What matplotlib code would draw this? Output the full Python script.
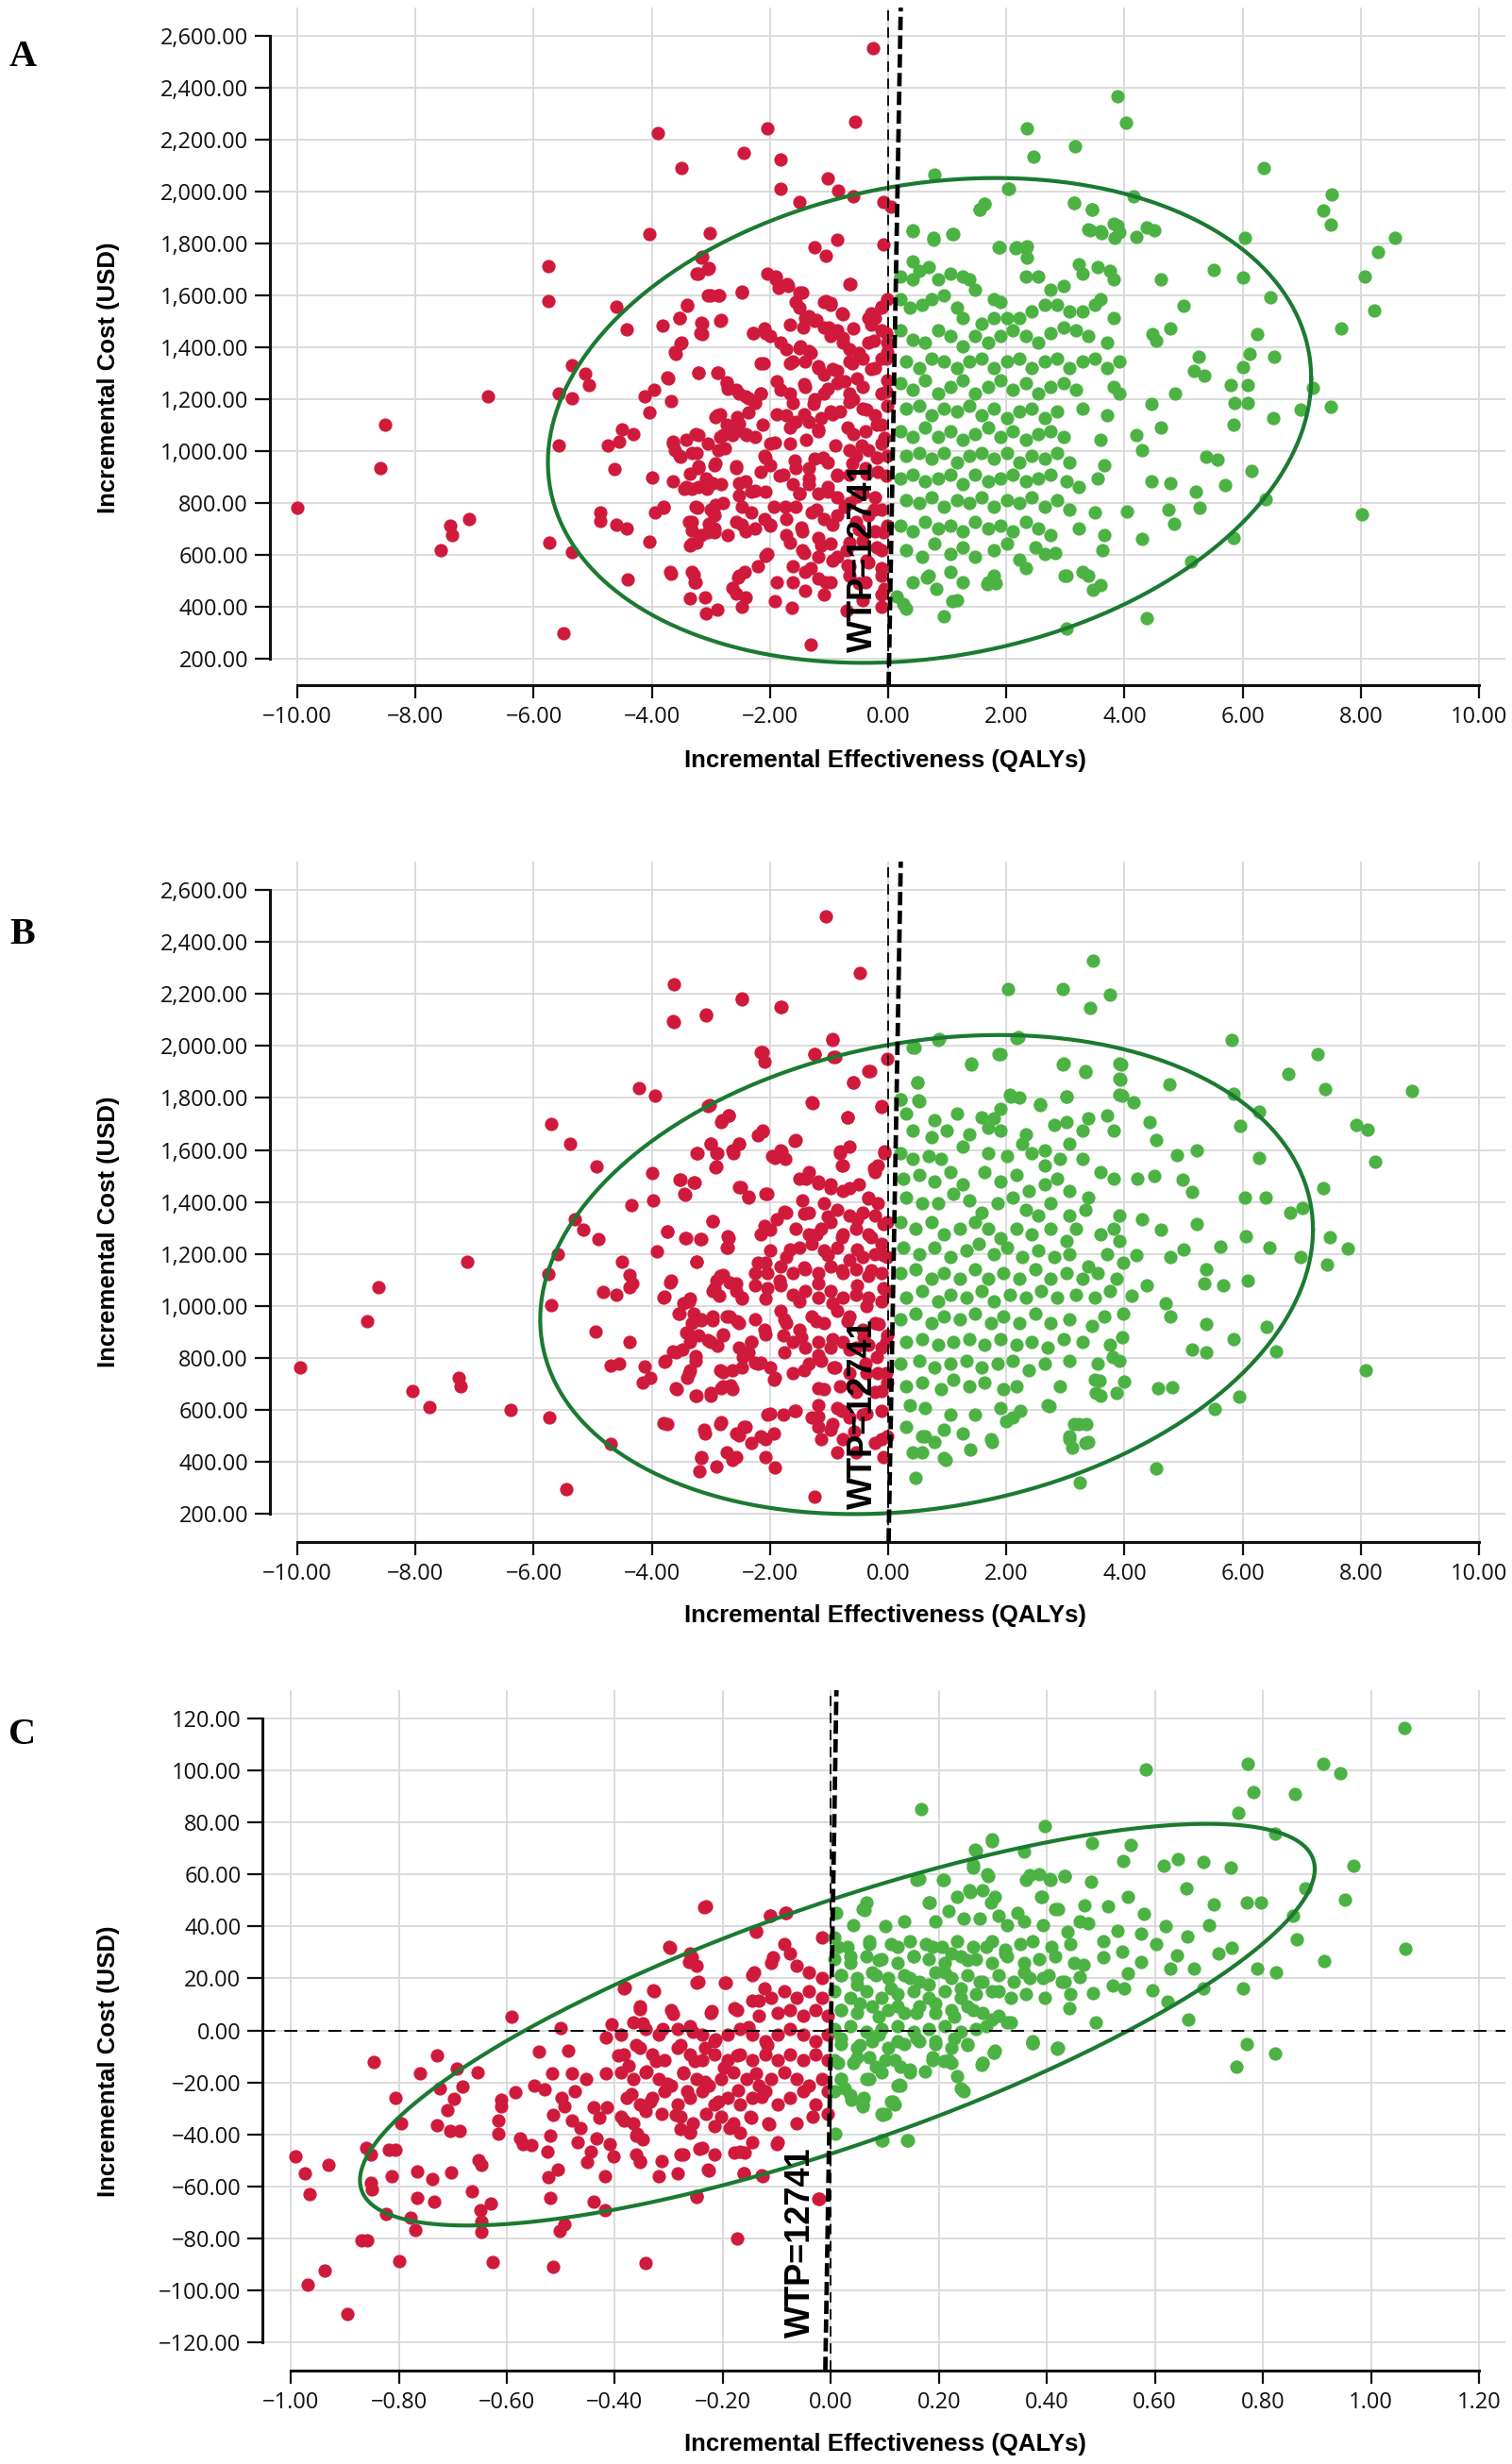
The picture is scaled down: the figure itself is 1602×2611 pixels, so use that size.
import numpy as np
import matplotlib.pyplot as plt

plt.rcParams['font.family'] = ['Open Sans', 'DejaVu Sans']

W, H = 1602, 2611
RED = '#d01a3c'
GREEN = '#4cb243'
RING = '#1b7a31'
GRID = '#dadada'
WTP = 12741          # willingness to pay, USD per QALY

# ---------------- data (QALYs, USD) ----------------
a_pts = [
    (-10.0, 780), (-8.6, 935), (-8.51, 1100), (-6.77, 1210), (-7.09, 737), (-7.41, 713), (-7.38, 675), (-7.57, 618),
    (-5.75, 1713), (-5.75, 1579), (-5.57, 1022), (-5.57, 1220), (-5.36, 1202), (-5.35, 1332), (-5.13, 1298),
    (-5.07, 1255), (-5.74, 648), (-5.35, 612), (-5.49, 299), (-3.90, 2227), (-3.50, 2091), (-2.44, 2150),
    (-4.05, 1837), (-3.02, 1841), (-3.15, 1748), (-3.04, 1705), (-3.24, 1683), (-4.60, 1555), (-4.42, 1468),
    (-3.82, 1482), (-3.53, 1511), (-3.40, 1561), (-3.06, 1600), (-2.88, 1600), (-3.15, 1492), (-3.15, 1452),
    (-2.83, 1504), (-2.48, 1610), (-3.51, 1413), (-3.59, 1375), (-3.21, 1300), (-2.88, 1300), (-3.72, 1279),
    (-3.97, 1235), (-4.12, 1210), (-3.68, 1194), (-4.05, 1150), (-4.74, 1020), (-4.51, 1082), (-4.56, 1038),
    (-4.32, 1066), (-4.64, 930), (-4.00, 898), (-4.87, 762), (-4.87, 730), (-4.60, 717), (-4.43, 701),
    (-4.04, 652), (-4.41, 506), (-3.94, 762), (-3.80, 782), (-3.68, 527), (-3.29, 524), (-3.27, 496),
    (-3.35, 431), (-3.08, 376), (-2.89, 389), (-3.64, 1038), (-3.61, 1002), (-3.52, 977), (-3.24, 993),
    (-3.22, 943), (-3.35, 914), (-3.45, 855), (-3.32, 855), (-3.21, 1060), (-3.23, 780), (-3.33, 727),
    (-3.32, 693), (-3.36, 638), (-3.25, 648), (-3.06, 687), (-3.03, 721), (-2.96, 762), (-2.92, 793),
    (-2.93, 953), (-3.09, 894), (-2.97, 875), (-3.07, 855), (-2.83, 873), (-2.94, 687), (-2.72, 677),
    (-2.57, 940), (-2.52, 876), (-2.52, 829), (-2.48, 717), (-2.54, 514), (-2.58, 451), (-2.48, 401),
    (-2.43, 533), (-2.93, 1131), (-2.85, 1141), (-2.80, 1062), (-2.76, 1012), (-2.88, 1002), (-2.56, 1131),
    (-2.74, 1265), (-2.71, 1239), (-2.53, 1220), (-2.37, 1204), (-2.64, 1062), (-2.40, 1062), (-2.29, 1456),
    (-2.36, 1150), (-2.52, 1105), (-2.42, 691), (-2.32, 845),
    (-0.26, 2551), (-2.04, 2245), (-0.56, 2269), (-1.82, 2123), (-1.02, 2052), (-1.82, 2012), (-0.84, 2004),
    (-1.51, 1959), (-0.59, 1983), (-0.08, 1959), (0.05, 1940), (-0.87, 1815), (-1.24, 1786), (-1.05, 1752),
    (-0.08, 1795), (-1.90, 1673), (-1.71, 1644), (-0.64, 1644), (-1.45, 1610), (-1.06, 1578), (-0.98, 1565),
    (-0.12, 1555), (-0.29, 1531), (-1.35, 1519), (-1.22, 1506), (-0.78, 1531), (-1.67, 1486), (-1.44, 1476),
    (-1.00, 1476), (-0.29, 1486), (-2.08, 1456), (-0.76, 1437), (-0.04, 1456), (-0.24, 1427), (-1.51, 1397),
    (-1.31, 1377), (-0.49, 1377), (-2.11, 1338), (-1.67, 1338), (-1.18, 1328), (-0.94, 1318), (-0.61, 1338),
    (-0.29, 1318), (-0.04, 1358), (-1.88, 1269), (-1.43, 1259), (-0.73, 1269), (-0.53, 1279), (-1.02, 1239),
    (-0.04, 1229), (-2.16, 1220), (-1.67, 1220), (-1.27, 1180), (-0.65, 1190), (-1.88, 1141), (-1.43, 1141),
    (-0.94, 1141), (-0.37, 1160), (-2.12, 1101), (-1.67, 1091), (-1.18, 1082), (-0.69, 1091), (-0.20, 1101),
    (-1.92, 1032), (-1.39, 1042), (-0.90, 1022), (-0.45, 1022), (-0.06, 1052), (-2.08, 973), (-1.59, 963),
    (-1.10, 973), (-0.61, 953), (-0.20, 973), (-1.84, 904), (-1.35, 894), (-0.86, 904), (-0.37, 914),
    (-0.04, 904), (-2.08, 845), (-1.51, 835), (-1.02, 845), (-0.53, 825), (-1.75, 786), (-1.22, 776),
    (-0.73, 786), (-0.24, 776), (-2.00, 717), (-1.47, 707), (-0.94, 717), (-0.49, 697), (-0.08, 687),
    (-1.67, 648), (-1.14, 638), (-0.65, 648), (-0.20, 628), (-2.08, 598), (-1.43, 608), (-0.94, 579),
    (-0.37, 579), (-1.31, 549), (-0.69, 559), (-0.12, 549), (-1.88, 494), (-1.06, 494), (-0.49, 490),
    (-0.06, 470), (-1.92, 421), (-1.63, 395), (-0.71, 387), (-0.12, 401), (-1.31, 253),
    (3.88, 2367), (4.02, 2265), (2.35, 2245), (2.46, 2133), (3.16, 2176), (6.36, 2091), (0.78, 2064),
    (2.04, 2012), (4.16, 1983), (7.51, 1989), (7.37, 1926), (7.49, 1874), (8.58, 1821), (8.29, 1768),
    (8.07, 1673), (8.22, 1543), (7.66, 1474), (6.03, 1821), (6.00, 1669), (6.47, 1594), (6.24, 1452),
    (6.11, 1374), (6.53, 1362), (6.00, 1322), (5.80, 1255), (6.08, 1255), (5.86, 1184), (6.08, 1184),
    (7.18, 1243), (6.98, 1160), (7.49, 1170), (5.84, 1101), (6.51, 1127), (8.02, 756), (6.15, 924),
    (5.71, 869), (6.39, 815), (5.84, 667), (5.12, 573), (4.37, 358), (3.02, 316), (0.94, 362), (0.31, 391),
    (1.09, 421), (1.67, 486), (1.82, 490), (2.98, 520), (3.39, 520), (3.59, 484), (3.47, 466), (0.82, 470),
    (0.65, 514), (0.14, 441), (4.78, 875), (4.74, 776), (4.84, 721), (4.29, 662), (5.21, 845), (5.27, 780),
    (5.39, 977), (5.58, 967), (5.25, 1364), (5.35, 1289), (5.18, 1308), (5.00, 1561), (5.51, 1697),
    (4.78, 1472), (4.47, 1452), (4.51, 1851), (4.37, 1861), (4.20, 1827), (3.88, 1870), (3.84, 1821),
    (3.61, 1841), (3.41, 1851), (3.45, 1930), (3.14, 1955), (1.55, 1930), (1.63, 1953), (0.41, 1851),
    (0.76, 1815), (1.09, 1835), (1.88, 1786), (2.15, 1782), (2.35, 1788), (4.61, 1663), (4.53, 1427),
    (4.86, 1220), (4.45, 1180), (4.61, 1091), (4.20, 1062), (4.29, 1002), (4.45, 884), (4.04, 766),
    (3.63, 618), (2.82, 608), (2.33, 549),
]

a_core = [
    (-3.16, 1745), (-3.05, 1702), (-3.21, 1684), (-2.04, 1684), (-1.91, 1660), (-1.85, 1629), (-1.69, 1635),
    (-1.51, 1611), (-1.56, 1575), (-1.08, 1575), (-0.97, 1569), (-0.65, 1642), (-0.76, 1526), (-0.12, 1551),
    (-0.02, 1587), (-3.00, 1599), (-2.86, 1599), (-2.47, 1614), (-3.40, 1563), (-3.53, 1514), (-3.16, 1496),
    (-2.84, 1502), (-3.18, 1454), (-2.28, 1454), (-2.09, 1472), (-1.99, 1442), (-1.83, 1417), (-1.72, 1393),
    (-1.48, 1405), (-1.35, 1387), (-1.51, 1551), (-1.40, 1514), (-1.24, 1502), (-1.08, 1478), (-0.97, 1442),
    (-0.87, 1466), (-0.60, 1472), (-0.76, 1417), (-0.65, 1393), (-0.34, 1417), (-0.23, 1514), (-0.12, 1466),
    (-0.02, 1417), (-0.34, 1514), (-3.50, 1417), (-3.61, 1381), (-3.74, 1284), (-3.21, 1302), (-2.89, 1302),
    (-2.15, 1339), (-2.73, 1260), (-2.57, 1236), (-2.41, 1211), (-2.25, 1187), (-2.15, 1223), (-1.83, 1236),
    (-1.61, 1345), (-1.40, 1345), (-1.19, 1320), (-1.08, 1296), (-0.87, 1308), (-0.65, 1345), (-0.44, 1357),
    (-0.23, 1320), (-0.12, 1357), (-0.02, 1381), (-0.02, 1272), (-0.12, 1223), (-0.44, 1248), (-0.65, 1223),
    (-0.87, 1260), (-1.08, 1223), (-1.24, 1199), (-1.40, 1248), (-1.61, 1187), (-1.72, 1139), (-1.56, 1114),
    (-1.35, 1114), (-1.13, 1127), (-1.19, 1078), (-0.97, 1151), (-0.82, 1151), (-0.60, 1199), (-0.44, 1163),
    (-0.23, 1139), (-0.02, 1175), (-0.12, 1102), (-0.39, 1078), (-0.60, 1066), (-0.65, 1005), (-0.55, 981),
    (-0.34, 1005), (-0.12, 1030), (-0.02, 981), (-0.18, 920), (-0.39, 933), (-0.65, 908), (-0.87, 908),
    (-1.03, 957), (-1.24, 969), (-1.35, 933), (-1.56, 933), (-1.67, 1030), (-1.99, 1030), (-2.09, 981),
    (-2.25, 1054), (-2.41, 1066), (-2.57, 1078), (-2.73, 1102), (-2.89, 1139), (-2.84, 1054), (-3.05, 1030),
    (-3.26, 1066), (-3.42, 1042), (-3.64, 1030), (-3.53, 981), (-3.32, 993), (-3.21, 933), (-2.94, 945),
    (-3.05, 884), (-3.21, 860), (-3.42, 860), (-3.64, 884), (-3.80, 787), (-3.26, 787), (-3.00, 775),
    (-2.79, 799), (-2.57, 933), (-2.41, 884), (-2.25, 848), (-2.15, 920), (-1.99, 945), (-1.77, 908),
    (-1.61, 872), (-1.51, 836), (-1.35, 872), (-1.19, 836), (-1.03, 860), (-0.87, 823), (-0.65, 799),
    (-0.44, 836), (-0.23, 823), (-0.12, 775), (-0.34, 751), (-0.55, 726), (-0.87, 751), (-1.08, 739),
    (-1.29, 763), (-1.56, 787), (-1.72, 739), (-1.93, 787), (-2.09, 739), (-2.31, 763), (-2.47, 787),
    (-2.57, 726), (-2.25, 702), (-1.99, 714), (-1.72, 678), (-1.45, 690), (-1.19, 666), (-0.97, 642),
    (-0.71, 617), (-0.44, 654), (-0.23, 690), (-0.02, 714), (-0.12, 617), (-0.34, 569), (-0.65, 557),
    (-0.87, 593), (-1.19, 593), (-1.45, 617), (-1.61, 557), (-1.40, 533), (-1.19, 508), (-0.97, 496),
    (-0.65, 520), (-0.39, 496), (-0.12, 520), (-0.12, 448), (-0.44, 424), (-1.08, 448), (-1.40, 460),
    (-1.61, 496), (-2.04, 605), (-2.20, 557), (-2.52, 520), (-2.63, 472), (-2.41, 436), (-3.10, 436),
    (-3.32, 533), (-3.26, 496), (-3.69, 533), (-2.94, 702), (-3.32, 642), (-3.37, 726), (-3.16, 678),
    (-2.94, 751),
    (0.41, 1848), (0.76, 1823), (1.10, 1835), (1.87, 1787), (2.17, 1787), (2.33, 1781), (2.35, 1745),
    (1.55, 1932), (1.63, 1951), (2.03, 2011), (3.15, 1957), (3.45, 1932), (3.39, 1854), (3.60, 1848),
    (3.82, 1878), (3.92, 1842), (0.41, 1732), (0.52, 1696), (0.68, 1708), (0.41, 1660), (0.20, 1672),
    (0.84, 1660), (1.05, 1684), (1.26, 1672), (1.37, 1660), (1.47, 1623), (1.79, 1587), (1.90, 1575),
    (2.33, 1672), (2.54, 1672), (2.75, 1623), (2.97, 1635), (3.23, 1720), (3.55, 1708), (3.76, 1696),
    (3.82, 1660), (3.29, 1684), (0.20, 1587), (0.36, 1551), (0.57, 1563), (0.73, 1587), (0.94, 1599),
    (1.16, 1551), (1.26, 1514), (1.58, 1490), (1.79, 1514), (2.01, 1514), (2.22, 1514), (2.43, 1539),
    (2.65, 1563), (2.86, 1563), (3.07, 1539), (3.29, 1539), (3.50, 1563), (3.60, 1587), (3.82, 1514),
    (0.20, 1466), (0.41, 1429), (0.62, 1417), (0.84, 1466), (1.05, 1442), (1.26, 1405), (1.47, 1442),
    (1.69, 1417), (1.90, 1442), (2.11, 1466), (2.33, 1442), (2.54, 1417), (2.75, 1454), (2.97, 1478),
    (3.18, 1466), (3.39, 1442), (3.71, 1417), (0.30, 1345), (0.52, 1320), (0.73, 1357), (0.94, 1345),
    (1.16, 1320), (1.37, 1345), (1.58, 1357), (1.79, 1320), (2.01, 1345), (2.22, 1357), (2.43, 1320),
    (2.65, 1345), (2.86, 1357), (3.07, 1320), (3.29, 1345), (3.50, 1357), (3.71, 1320), (3.92, 1345),
    (0.20, 1260), (0.41, 1236), (0.62, 1272), (0.84, 1223), (1.05, 1248), (1.26, 1272), (1.47, 1223),
    (1.69, 1248), (1.90, 1272), (2.11, 1236), (2.33, 1260), (2.54, 1223), (2.75, 1248), (2.97, 1260),
    (3.18, 1236), (3.82, 1248), (3.92, 1223), (0.30, 1163), (0.52, 1175), (0.73, 1139), (0.94, 1163),
    (1.16, 1151), (1.37, 1175), (1.58, 1139), (1.79, 1163), (2.01, 1127), (2.22, 1151), (2.43, 1163),
    (2.65, 1127), (2.86, 1151), (3.29, 1163), (3.71, 1139), (0.20, 1078), (0.41, 1054), (0.62, 1090),
    (0.84, 1054), (1.05, 1078), (1.26, 1042), (1.47, 1066), (1.69, 1090), (1.90, 1054), (2.11, 1078),
    (2.33, 1042), (2.54, 1066), (2.75, 1078), (2.97, 1054), (3.60, 1042), (0.30, 981), (0.52, 993),
    (0.73, 969), (0.94, 993), (1.16, 957), (1.37, 981), (1.58, 993), (1.79, 969), (2.01, 993), (2.22, 957),
    (2.43, 981), (2.65, 969), (2.86, 993), (3.07, 957), (3.66, 945), (0.20, 896), (0.41, 908), (0.62, 884),
    (0.84, 896), (1.05, 908), (1.26, 872), (1.47, 908), (1.69, 884), (1.90, 896), (2.11, 908), (2.33, 884),
    (2.54, 896), (2.75, 908), (3.02, 884), (3.23, 860), (3.55, 896), (0.30, 811), (0.52, 799), (0.73, 823),
    (0.94, 787), (1.16, 811), (1.37, 799), (1.58, 823), (1.79, 787), (2.01, 811), (2.22, 799), (2.43, 823),
    (2.65, 787), (2.86, 811), (3.07, 775), (3.50, 763), (0.20, 714), (0.41, 690), (0.62, 726), (0.84, 702),
    (1.05, 714), (1.26, 690), (1.47, 726), (1.69, 702), (1.90, 714), (2.11, 690), (2.33, 726), (2.54, 702),
    (2.75, 678), (3.23, 702), (3.66, 678), (0.30, 617), (0.57, 593), (0.78, 642), (1.05, 605), (1.26, 630),
    (1.47, 593), (1.79, 617), (2.01, 642), (2.22, 581), (2.49, 630), (2.65, 605), (3.02, 520), (3.29, 533),
    (0.41, 496), (0.68, 520), (1.05, 533), (1.26, 496), (1.69, 496), (1.79, 520), (1.16, 424), (0.25, 411),
]

b_pts = [
    (-9.96, 762), (-8.82, 939), (-8.62, 1073), (-8.06, 673), (-7.76, 610), (-7.27, 723), (-7.23, 689),
    (-7.13, 1170), (-6.39, 600), (-5.71, 1700), (-5.39, 1623), (-4.94, 1538), (-5.31, 1333), (-5.16, 1294),
    (-4.90, 1255), (-5.59, 1199), (-5.76, 1121), (-5.71, 1004), (-5.74, 571), (-5.45, 293), (-4.95, 900),
    (-4.69, 467), (-4.83, 1052), (-4.60, 1042), (-4.50, 1170), (-4.38, 1117), (-4.33, 1087), (-4.38, 1071),
    (-4.35, 1387), (-4.38, 861), (-4.69, 768), (-4.56, 778), (-4.22, 1838), (-3.94, 1810), (-3.63, 2239),
    (-3.63, 2092), (-3.08, 2119), (-2.48, 2184), (-4.00, 1511), (-3.98, 1406), (-3.52, 1485), (-3.28, 1475),
    (-3.43, 1428), (-3.02, 1773), (-2.83, 1708), (-2.70, 1731), (-3.23, 1589), (-3.01, 1625), (-2.91, 1589),
    (-2.91, 1536), (-2.62, 1589), (-2.53, 1623), (-2.49, 1455), (-2.36, 1420), (-3.74, 1284), (-3.43, 1260),
    (-3.17, 1255), (-2.97, 1325), (-2.71, 1268), (-2.71, 1225), (-3.92, 1209), (-3.24, 1170), (-3.68, 1095),
    (-3.78, 1034), (-3.47, 1008), (-3.35, 1026), (-3.55, 971), (-3.29, 969), (-3.17, 945), (-2.97, 943),
    (-2.68, 959), (-2.56, 939), (-2.91, 1097), (-2.80, 1117), (-2.58, 1087), (-2.97, 1058), (-2.86, 1038),
    (-2.48, 1028), (-3.38, 894), (-3.36, 861), (-3.48, 831), (-3.60, 821), (-3.06, 867), (-2.89, 847),
    (-2.80, 890), (-3.26, 807), (-3.36, 752), (-3.40, 723), (-3.78, 786), (-4.12, 766), (-4.15, 703),
    (-4.02, 723), (-3.60, 683), (-3.24, 654), (-3.01, 664), (-2.83, 683), (-2.67, 693), (-2.80, 746),
    (-2.64, 752), (-2.48, 762), (-2.46, 801), (-2.37, 821), (-3.81, 549), (-3.11, 522), (-2.83, 551),
    (-2.53, 502), (-2.44, 535), (-3.16, 417), (-3.20, 362), (-2.91, 382), (-2.63, 407), (-2.57, 417),
    (-2.32, 861), (-2.25, 782),
    (-1.05, 2500), (-0.48, 2283), (-1.81, 2151), (-0.94, 2027), (-2.12, 1977), (-1.24, 1968), (-0.90, 1958),
    (-0.31, 1905), (-0.60, 1861), (-1.28, 1780), (-0.12, 1767), (-0.69, 1727), (-2.12, 1672), (-1.58, 1635),
    (-0.82, 1593), (-0.06, 1593), (-1.92, 1570), (-1.80, 1595), (-0.24, 1530), (-0.78, 1540), (-1.39, 1491),
    (-1.18, 1471), (-0.98, 1452), (-2.08, 1432), (-0.65, 1452), (-0.33, 1412), (-1.76, 1363), (-1.43, 1353),
    (-1.02, 1343), (-0.53, 1333), (-0.08, 1314), (-2.00, 1294), (-1.22, 1274), (-0.78, 1264), (-0.29, 1264),
    (-1.67, 1215), (-1.02, 1195), (-0.53, 1215), (-0.08, 1195), (-2.08, 1166), (-1.43, 1146), (-0.78, 1136),
    (-0.29, 1136), (-1.84, 1097), (-1.18, 1087), (-0.53, 1077), (-0.08, 1067), (-2.08, 1028), (-1.51, 1018),
    (-0.94, 1008), (-0.37, 998), (-1.76, 949), (-1.22, 939), (-0.69, 939), (-0.16, 929), (-2.08, 890),
    (-1.47, 880), (-0.94, 870), (-0.41, 880), (-0.04, 861), (-1.76, 821), (-1.18, 811), (-0.65, 831),
    (-0.20, 801), (-2.00, 762), (-1.43, 752), (-0.90, 762), (-0.37, 742), (-0.04, 742), (-2.16, 782),
    (-1.92, 723), (-1.18, 683), (-0.61, 693), (-0.12, 673), (-2.00, 585), (-1.59, 595), (-1.18, 575),
    (-0.78, 595), (-0.37, 585), (-2.08, 486), (-1.14, 486), (-0.94, 545), (-0.57, 516), (-0.12, 486),
    (-1.92, 378), (-2.08, 417), (-1.24, 264), (-0.08, 417),
    (3.47, 2328), (2.03, 2220), (2.96, 2220), (3.76, 2198), (3.41, 2147), (5.82, 2023), (7.27, 1970),
    (6.78, 1891), (7.40, 1836), (8.87, 1826), (5.84, 1816), (7.92, 1696), (8.12, 1678), (8.24, 1556),
    (6.27, 1747), (5.96, 1692), (6.27, 1570), (7.36, 1452), (6.04, 1418), (6.39, 1418), (6.80, 1357),
    (7.02, 1377), (7.47, 1264), (7.78, 1219), (7.43, 1160), (6.98, 1186), (6.06, 1268), (5.63, 1229),
    (6.46, 1225), (6.08, 1097), (5.67, 1077), (6.41, 920), (5.85, 870), (6.57, 825), (8.08, 752),
    (5.94, 648), (5.53, 604), (4.53, 374), (3.24, 319), (0.47, 339), (0.97, 407), (0.42, 437), (0.57, 496),
    (0.78, 476), (1.39, 447), (1.76, 476), (2.00, 555), (2.24, 595), (2.73, 614), (3.14, 545), (3.35, 545),
    (3.06, 486), (3.39, 476), (3.12, 453), (3.51, 664), (3.57, 713), (3.86, 664), (4.00, 707), (4.57, 683),
    (4.80, 687), (5.14, 831), (5.39, 821), (5.39, 929), (4.78, 959), (4.69, 1008), (0.45, 1993),
    (0.86, 2027), (1.41, 1930), (1.90, 1968), (2.20, 2033), (2.96, 1928), (3.33, 1901), (3.94, 1930),
    (3.93, 1869), (3.96, 1810), (4.16, 1782), (4.76, 1851), (3.02, 1806), (2.57, 1771), (2.08, 1806),
    (0.49, 1861), (0.51, 1790), (0.20, 1796), (4.88, 1580), (5.22, 1600), (5.14, 1438), (4.98, 1485),
    (4.51, 1501), (4.22, 1491), (4.43, 1708), (4.53, 1639), (5.22, 1314), (5.00, 1215), (4.78, 1186),
    (5.39, 1142), (5.35, 1087), (4.29, 1333), (4.61, 1294), (4.20, 1195), (4.37, 1077), (4.12, 1038),
    (3.96, 880), (3.80, 801),
]

b_core = [
    (-3.64, 2097), (-3.08, 2121), (-2.47, 2179), (-1.83, 2152), (-2.15, 1976), (-2.09, 1939), (-1.24, 1970),
    (-0.95, 2024), (-0.92, 1958), (-0.34, 1903), (-0.02, 1952), (-0.60, 1861), (-1.29, 1782), (-0.12, 1770),
    (-0.68, 1727), (-3.05, 1770), (-2.81, 1715), (-2.70, 1733), (-2.12, 1673), (-2.20, 1655), (-1.56, 1637),
    (-3.00, 1624), (-2.89, 1588), (-2.63, 1600), (-2.52, 1624), (-3.24, 1588), (-2.92, 1533), (-1.96, 1576),
    (-1.83, 1600), (-1.75, 1564), (-0.65, 1612), (-0.82, 1588), (-0.76, 1540), (-0.07, 1588), (-0.18, 1540),
    (-0.23, 1515), (-3.53, 1485), (-3.29, 1473), (-3.45, 1430), (-2.52, 1455), (-2.36, 1418), (-2.04, 1430),
    (-1.51, 1491), (-1.35, 1515), (-1.19, 1479), (-0.97, 1467), (-0.76, 1443), (-0.50, 1467), (-0.34, 1418),
    (-0.18, 1394), (-1.45, 1406), (-1.35, 1358), (-1.08, 1394), (-0.87, 1370), (-0.65, 1346), (-0.44, 1358),
    (-0.23, 1346), (-0.02, 1321), (-1.72, 1358), (-1.88, 1333), (-2.09, 1309), (-2.15, 1273), (-2.97, 1327),
    (-3.74, 1285), (-3.42, 1261), (-3.18, 1255), (-2.70, 1261), (-2.73, 1224), (-1.56, 1297), (-1.35, 1273),
    (-1.13, 1297), (-0.97, 1321), (-0.76, 1273), (-0.55, 1297), (-0.34, 1273), (-0.12, 1237), (-0.02, 1188),
    (-0.23, 1200), (-0.44, 1188), (-0.65, 1176), (-0.87, 1224), (-1.08, 1212), (-1.29, 1237), (-1.51, 1224),
    (-1.72, 1188), (-1.99, 1212), (-2.20, 1164), (-2.25, 1127), (-2.04, 1127), (-1.83, 1152), (-1.61, 1127),
    (-1.40, 1140), (-1.19, 1127), (-0.97, 1152), (-0.76, 1127), (-0.55, 1140), (-0.34, 1115), (-0.12, 1127),
    (-3.24, 1170), (-3.69, 1091), (-2.84, 1115), (-2.94, 1067), (-2.68, 1091), (-2.47, 1031), (-2.57, 1055),
    (-2.25, 1079), (-2.04, 1067), (-1.83, 1079), (-1.61, 1043), (-1.40, 1055), (-1.19, 1031), (-0.97, 1055),
    (-0.76, 1031), (-0.55, 1043), (-0.34, 1031), (-0.12, 1018), (-0.02, 1055), (-3.80, 1031), (-3.53, 970),
    (-3.37, 1018), (-3.32, 934), (-3.16, 946), (-2.97, 958), (-2.73, 958), (-2.52, 934), (-2.25, 946),
    (-2.09, 909), (-1.83, 982), (-1.72, 934), (-1.51, 909), (-1.29, 958), (-1.08, 934), (-0.87, 982),
    (-0.65, 958), (-0.44, 909), (-0.23, 934), (-0.02, 885), (-0.12, 837), (-0.34, 849), (-0.55, 837),
    (-0.76, 861), (-0.97, 837), (-1.19, 861), (-1.40, 837), (-1.61, 861), (-1.77, 885), (-2.31, 861),
    (-2.52, 837), (-2.79, 885), (-3.00, 861), (-3.21, 885), (-3.42, 897), (-3.64, 824), (-3.77, 788),
    (-3.26, 788), (-3.37, 740), (-2.84, 752), (-2.41, 812), (-2.20, 776), (-1.93, 715), (-1.61, 740),
    (-1.35, 776), (-1.13, 788), (-0.92, 764), (-0.65, 740), (-0.39, 776), (-0.18, 740), (-0.02, 703),
    (-0.23, 667), (-0.55, 667), (-0.82, 691), (-1.08, 679), (-1.19, 618), (-0.87, 606), (-0.65, 570),
    (-0.44, 582), (-0.12, 594), (-0.02, 497), (-0.23, 473), (-0.76, 485), (-0.97, 521), (-1.19, 534),
    (-1.29, 570), (-1.56, 594), (-1.77, 582), (-2.04, 582), (-1.93, 509), (-2.15, 497), (-2.41, 534),
    (-2.57, 509), (-2.31, 473), (-2.84, 546), (-3.10, 509), (-2.73, 437), (-3.16, 412), (-3.74, 546),
    (-3.26, 655), (-3.00, 655), (-3.58, 679), (-2.79, 691), (-2.63, 679), (-0.55, 437), (-0.87, 437),
    (0.41, 1994), (0.84, 2024), (1.40, 1933), (1.87, 1970), (2.17, 2030), (2.97, 1933), (3.34, 1903),
    (3.92, 1933), (3.92, 1873), (3.92, 1812), (0.49, 1861), (0.20, 1794), (0.52, 1788), (2.06, 1812),
    (2.22, 1800), (2.57, 1776), (3.02, 1806), (1.90, 1758), (0.30, 1739), (0.78, 1715), (1.16, 1739),
    (1.58, 1727), (1.79, 1721), (2.33, 1661), (2.81, 1697), (3.02, 1709), (3.39, 1721), (3.71, 1733),
    (0.41, 1673), (0.73, 1649), (0.99, 1673), (1.37, 1661), (1.69, 1685), (1.90, 1673), (2.27, 1624),
    (2.65, 1600), (3.07, 1624), (3.29, 1673), (3.82, 1673), (0.20, 1588), (0.41, 1564), (0.68, 1576),
    (0.89, 1564), (1.26, 1612), (1.69, 1588), (2.01, 1576), (2.43, 1588), (2.65, 1540), (2.91, 1564),
    (3.29, 1564), (3.60, 1515), (3.82, 1491), (0.25, 1491), (0.52, 1503), (0.78, 1479), (1.05, 1515),
    (1.26, 1467), (1.63, 1515), (1.90, 1479), (2.17, 1503), (2.38, 1443), (2.65, 1467), (2.86, 1491),
    (3.07, 1443), (3.39, 1418), (3.92, 1346), (0.30, 1418), (0.57, 1394), (0.84, 1394), (1.10, 1430),
    (1.37, 1406), (1.58, 1358), (1.85, 1394), (2.11, 1418), (2.33, 1370), (2.54, 1346), (2.75, 1394),
    (3.07, 1346), (3.34, 1370), (3.82, 1297), (0.20, 1321), (0.46, 1297), (0.73, 1321), (0.94, 1273),
    (1.21, 1297), (1.47, 1321), (1.69, 1297), (1.90, 1261), (2.17, 1297), (2.43, 1273), (2.75, 1297),
    (3.02, 1249), (3.18, 1297), (3.60, 1273), (3.92, 1249), (0.25, 1224), (0.52, 1200), (0.78, 1224),
    (1.05, 1188), (1.32, 1212), (1.53, 1237), (1.79, 1200), (2.01, 1224), (2.27, 1188), (2.54, 1212),
    (2.81, 1188), (3.07, 1200), (3.39, 1152), (3.71, 1200), (3.98, 1164), (0.20, 1127), (0.46, 1140),
    (0.73, 1103), (0.94, 1127), (1.21, 1103), (1.47, 1140), (1.69, 1103), (1.95, 1127), (2.22, 1103),
    (2.49, 1140), (2.75, 1103), (3.02, 1127), (3.29, 1103), (3.55, 1127), (3.87, 1103), (0.30, 1031),
    (0.57, 1055), (0.84, 1018), (1.05, 1043), (1.32, 1031), (1.58, 1055), (1.79, 1018), (2.06, 1043),
    (2.33, 1031), (2.59, 1055), (2.86, 1031), (3.18, 1043), (3.50, 1031), (3.76, 1055), (0.20, 946),
    (0.46, 970), (0.73, 934), (0.94, 958), (1.21, 946), (1.47, 970), (1.74, 934), (1.95, 958), (2.22, 934),
    (2.49, 970), (2.75, 934), (3.07, 946), (3.45, 921), (3.66, 958), (3.98, 970), (0.30, 861), (0.57, 873),
    (0.84, 849), (1.10, 861), (1.37, 873), (1.63, 849), (1.90, 873), (2.17, 849), (2.43, 861), (2.70, 837),
    (2.97, 873), (3.29, 861), (3.76, 849), (0.20, 776), (0.52, 788), (0.78, 764), (1.05, 776), (1.32, 788),
    (1.58, 764), (1.85, 776), (2.11, 788), (2.38, 752), (2.65, 776), (3.07, 788), (3.55, 776), (3.92, 788),
    (0.30, 691), (0.57, 703), (0.89, 679), (1.10, 715), (1.37, 691), (1.63, 703), (1.95, 679), (2.17, 691),
    (2.91, 691), (3.50, 715), (3.60, 655), (0.36, 618), (0.62, 606), (1.05, 582), (1.47, 582), (1.90, 606),
    (2.11, 570), (2.70, 618), (3.23, 546), (0.30, 534), (0.62, 497), (0.94, 521), (1.26, 509), (1.74, 485),
    (3.07, 497), (3.34, 473), (0.94, 412), (0.57, 437),
]

c_pts = [
    (-0.992, -48.6), (-0.974, -55.2), (-0.966, -63.0), (-0.930, -51.8), (-0.969, -97.9), (-0.937, -92.5),
    (-0.896, -109.2), (-0.861, -45.2), (-0.847, -12.1), (-0.851, -47.6), (-0.851, -58.6), (-0.850, -61.1),
    (-0.870, -80.9), (-0.859, -80.9), (-0.824, -70.5), (-0.818, -46.0), (-0.807, -46.0), (-0.813, -56.0),
    (-0.807, -26.0), (-0.796, -35.6), (-0.800, -88.9), (-0.778, -72.1), (-0.770, -76.9), (-0.766, -54.2),
    (-0.766, -64.5), (-0.761, -16.7), (-0.738, -57.2), (-0.734, -65.9), (-0.730, -9.5), (-0.730, -36.4),
    (-0.724, -22.4), (-0.703, -54.6), (-0.711, -30.6), (-0.698, -26.2), (-0.705, -38.6), (-0.687, -38.6),
    (-0.692, -14.7), (-0.683, -21.6), (-0.655, -16.1), (-0.664, -62.0), (-0.652, -50.0), (-0.648, -51.6),
    (-0.649, -69.1), (-0.647, -73.5), (-0.647, -77.5), (-0.627, -89.1), (-0.629, -66.5), (-0.615, -39.6),
    (-0.615, -34.6), (-0.610, -29.2), (-0.610, -26.6), (-0.591, 5.3), (-0.585, -23.8), (-0.575, -41.6),
    (-0.570, -43.6), (-0.555, -44.2), (-0.540, -8.3), (-0.550, -21.2), (-0.530, -22.6), (-0.517, -16.7),
    (-0.515, -32.6), (-0.520, -40.6), (-0.525, -46.6), (-0.523, -56.6), (-0.519, -64.5), (-0.506, -53.6),
    (-0.515, -91.1), (-0.502, -77.1), (-0.494, -74.5), (-0.501, 1.0), (-0.499, -26.0), (-0.494, -29.2),
    (-0.486, -7.7), (-0.479, -16.7), (-0.474, -23.6), (-0.479, -34.6), (-0.464, -37.6), (-0.469, -43.2),
    (-0.451, -50.6), (-0.444, -46.6), (-0.439, -66.1), (-0.454, -18.7), (-0.439, -29.6), (-0.434, -41.6),
    (-0.429, -33.6), (-0.419, -56.2), (-0.419, -69.1), (-0.414, -29.6), (-0.416, -16.7), (-0.416, -2.7),
    (-0.406, 2.3), (-0.409, -43.6), (-0.402, -48.6), (-0.384, -34.6), (-0.382, 16.7), (-0.394, -9.7),
    (-0.374, -13.7), (-0.369, -24.6), (-0.354, 8.3), (-0.361, -5.7), (-0.344, -89.5), (-0.359, -39.6),
    (-0.354, -50.6), (-0.349, 2.6), (-0.342, -15.7), (-0.334, -27.6), (-0.324, -11.7), (-0.329, 15.3),
    (-0.319, -56.2), (-0.312, 0.4), (-0.303, -20.6), (-0.297, 31.8), (-0.293, 6.4), (-0.288, -32.6),
    (-0.278, -5.7), (-0.273, -16.7), (-0.267, -23.6), (-0.273, -47.6), (-0.263, 26.2), (-0.258, 28.2),
    (-0.261, -39.2), (-0.256, -0.6), (-0.253, -11.7), (-0.246, 18.9), (-0.248, -64.1), (-0.243, -45.6),
    (-0.235, 47.6), (-0.233, -6.7), (-0.233, -19.7), (-0.228, -53.6), (-0.222, 6.8), (-0.214, -3.6),
    (-0.209, -27.6), (-0.198, -14.3), (-0.195, 18.3), (-0.188, -37.6), (-0.178, 8.4), (-0.178, -47.2),
    (-0.173, -80.1), (-0.173, -9.7), (-0.171, -23.2), (-0.162, -55.0), (-0.159, -47.2), (-0.153, 1.4),
    (-0.148, -33.6), (-0.143, 22.2), (-0.138, -16.7), (-0.138, 38.2), (-0.133, 11.3), (-0.128, -25.6),
    (-0.128, -55.6), (-0.123, 16.3), (-0.118, -5.7), (-0.113, 44.2), (-0.115, -36.0), (-0.108, 28.2),
    (-0.100, -43.6), (-0.084, 45.2), (-0.024, -65.0),
    (1.062, 116.6), (0.583, 100.4), (0.772, 102.6), (0.912, 102.6), (0.943, 98.9), (0.783, 91.7),
    (0.860, 90.9), (0.167, 85.1), (0.754, 83.7), (0.397, 78.5), (0.299, 73.5), (0.823, 75.7), (0.484, 72.1),
    (0.556, 71.3), (0.268, 69.1), (0.541, 65.3), (0.616, 63.5), (0.642, 66.1), (0.690, 64.7), (0.740, 62.7),
    (0.967, 63.5), (0.264, 62.7), (0.163, 58.2), (0.210, 58.0), (0.292, 59.5), (0.368, 59.8), (0.404, 58.2),
    (0.433, 59.4), (0.481, 57.4), (0.879, 54.6), (0.658, 54.6), (0.952, 50.2), (0.770, 49.4), (0.797, 49.4),
    (0.855, 44.0), (0.709, 48.4), (0.550, 51.6), (0.513, 47.8), (0.415, 46.8), (0.391, 51.4), (0.257, 53.8),
    (0.297, 49.4), (0.183, 49.2), (0.062, 46.2), (0.862, 35.2), (1.063, 31.4), (0.914, 26.8), (0.824, 22.2),
    (0.789, 23.8), (0.764, 16.0), (0.718, 29.6), (0.742, 31.8), (0.673, 23.8), (0.629, 23.8), (0.623, 11.1),
    (0.662, 4.1), (0.595, 15.3), (0.543, 16.1), (0.491, 3.1), (0.771, -5.1), (0.822, -8.9), (0.751, -14.1),
    (0.374, -4.9), (0.418, -6.9), (0.301, -8.7), (0.279, -13.1), (0.244, -23.2), (0.127, -20.8),
    (0.114, -27.6), (0.096, -32.6), (0.095, -42.2), (0.142, -42.2), (0.058, -29.2), (0.038, -26.6),
    (0.210, -11.7), (0.174, -15.7), (0.009, -39.6),
    (0.477, 41.2), (0.504, 34.2), (0.531, 38.2), (0.575, 37.2), (0.602, 33.2), (0.62, 40.2), (0.468, 25.2),
    (0.504, 28.2), (0.54, 30.2), (0.575, 26.2), (0.486, 14.3), (0.522, 17.3), (0.442, 8.4), (0.46, 20.5),
    (0.55, 22.0), (0.66, 36.0), (0.70, 40.5), (0.58, 45.0), (0.64, 29.0), (0.69, 16.0), (0.47, 48.0),
]

c_core = [
    (-0.232, 47.8), (-0.113, 44.2), (-0.083, 45.4), (-0.299, 32.1), (-0.261, 29.7), (-0.249, 24.8),
    (-0.139, 38.1), (-0.016, 35.7), (-0.086, 33.3), (-0.075, 29.7), (-0.110, 26.1), (-0.063, 24.8),
    (-0.040, 22.4), (-0.016, 20.0), (-0.145, 21.2), (-0.197, 18.2), (-0.249, 18.2), (-0.328, 15.1),
    (-0.383, 16.3), (-0.296, 7.9), (-0.220, 7.3), (-0.174, 7.9), (-0.145, 11.5), (-0.110, 12.7),
    (-0.086, 15.1), (-0.063, 12.7), (-0.040, 15.1), (-0.016, 12.7), (-0.133, 5.5), (-0.098, 6.7),
    (-0.075, 7.9), (-0.051, 5.5), (-0.028, 7.9), (-0.005, 5.5), (-0.354, 9.1), (-0.366, 3.0), (-0.343, 0.6),
    (-0.319, -1.8), (-0.389, -1.8), (-0.284, 0.6), (-0.261, 1.8), (-0.238, -1.8), (-0.215, -4.2),
    (-0.191, -1.8), (-0.168, 0.6), (-0.145, -1.8), (-0.121, -4.2), (-0.098, -1.8), (-0.075, 0.6),
    (-0.051, -1.8), (-0.028, -4.2), (-0.005, -1.8), (-0.383, -9.1), (-0.354, -6.7), (-0.331, -9.1),
    (-0.308, -11.5), (-0.284, -6.7), (-0.261, -9.1), (-0.238, -11.5), (-0.215, -9.1), (-0.191, -11.5),
    (-0.168, -9.1), (-0.145, -11.5), (-0.121, -9.1), (-0.098, -11.5), (-0.075, -9.1), (-0.051, -11.5),
    (-0.028, -9.1), (-0.005, -11.5), (-0.389, -16.3), (-0.366, -18.8), (-0.343, -16.3), (-0.319, -18.8),
    (-0.296, -21.2), (-0.273, -16.3), (-0.249, -18.8), (-0.226, -21.2), (-0.203, -18.8), (-0.180, -16.3),
    (-0.156, -18.8), (-0.133, -21.2), (-0.110, -18.8), (-0.086, -16.3), (-0.063, -18.8), (-0.040, -21.2),
    (-0.016, -18.8), (-0.005, -23.6), (-0.378, -26.0), (-0.354, -28.5), (-0.331, -26.0), (-0.308, -23.6),
    (-0.284, -28.5), (-0.261, -26.0), (-0.238, -23.6), (-0.215, -28.5), (-0.191, -26.0), (-0.168, -28.5),
    (-0.145, -26.0), (-0.121, -23.6), (-0.098, -28.5), (-0.075, -26.0), (-0.051, -23.6), (-0.028, -28.5),
    (-0.389, -33.3), (-0.366, -35.7), (-0.343, -30.9), (-0.314, -32.1), (-0.279, -33.3), (-0.255, -35.7),
    (-0.232, -32.1), (-0.203, -33.3), (-0.180, -35.7), (-0.150, -33.3), (-0.116, -35.7), (-0.063, -35.7),
    (-0.034, -33.3), (-0.005, -32.1), (-0.360, -40.6), (-0.349, -41.8), (-0.279, -38.1), (-0.261, -39.4),
    (-0.215, -36.9), (-0.168, -39.4), (-0.145, -43.0), (-0.098, -43.0), (-0.168, -46.6), (-0.215, -47.8),
    (-0.238, -45.4), (-0.279, -47.8), (-0.314, -50.2), (-0.360, -47.8), (-0.354, -50.2), (-0.284, -55.1),
    (-0.226, -53.9), (-0.162, -55.1), (-0.127, -56.3), (-0.249, -63.6), (-0.022, -64.8),
    (0.266, 69.6), (0.298, 72.7), (0.357, 69.0), (0.263, 63.6), (0.290, 60.0), (0.158, 58.1), (0.208, 58.1),
    (0.362, 58.1), (0.386, 60.0), (0.406, 58.1), (0.432, 59.3), (0.389, 51.5), (0.234, 51.5), (0.258, 53.3),
    (0.281, 53.9), (0.304, 51.5), (0.182, 49.1), (0.217, 46.0), (0.010, 45.4), (0.059, 46.6), (0.310, 44.2),
    (0.345, 45.4), (0.421, 46.6), (0.461, 41.8), (0.042, 40.6), (0.100, 40.0), (0.135, 41.8), (0.193, 41.8),
    (0.246, 43.0), (0.275, 43.0), (0.327, 40.6), (0.357, 41.8), (0.392, 40.6), (0.438, 38.1), (0.007, 35.7),
    (0.030, 32.1), (0.071, 34.5), (0.112, 33.3), (0.147, 34.5), (0.176, 33.3), (0.205, 32.1), (0.234, 34.5),
    (0.263, 32.1), (0.298, 34.5), (0.322, 30.9), (0.351, 33.3), (0.374, 34.5), (0.409, 32.1), (0.444, 33.3),
    (0.007, 27.3), (0.036, 26.1), (0.065, 28.5), (0.094, 27.3), (0.123, 26.1), (0.153, 28.5), (0.182, 27.3),
    (0.211, 26.1), (0.240, 28.5), (0.269, 27.3), (0.298, 26.1), (0.327, 28.5), (0.357, 26.1), (0.386, 27.3),
    (0.415, 28.5), (0.450, 26.1), (0.019, 21.2), (0.048, 20.0), (0.077, 22.4), (0.106, 20.0), (0.135, 21.2),
    (0.164, 18.8), (0.193, 22.4), (0.223, 20.0), (0.252, 21.2), (0.281, 18.8), (0.310, 21.2), (0.339, 18.8),
    (0.368, 20.0), (0.403, 21.2), (0.432, 18.8), (0.007, 15.1), (0.036, 12.7), (0.065, 15.1), (0.094, 12.7),
    (0.123, 13.9), (0.153, 15.1), (0.182, 12.7), (0.211, 15.1), (0.240, 12.7), (0.269, 13.9), (0.298, 15.1),
    (0.333, 12.7), (0.362, 13.9), (0.397, 12.7), (0.444, 13.9), (0.019, 7.9), (0.048, 6.7), (0.077, 9.1),
    (0.106, 7.9), (0.135, 6.7), (0.164, 9.1), (0.193, 6.7), (0.223, 7.9), (0.252, 9.1), (0.281, 6.7),
    (0.310, 5.5), (0.327, 3.0), (0.007, 0.6), (0.036, 1.8), (0.065, -0.6), (0.094, 0.6), (0.123, 1.8),
    (0.153, -0.6), (0.182, 0.6), (0.211, 1.8), (0.240, -0.6), (0.269, 0.6), (0.287, 1.8), (0.019, -5.4),
    (0.048, -6.7), (0.077, -4.2), (0.106, -6.7), (0.135, -5.4), (0.164, -4.2), (0.193, -5.4), (0.223, -6.7),
    (0.252, -5.4), (0.374, -4.2), (0.421, -6.7), (0.007, -11.5), (0.042, -12.7), (0.071, -10.3),
    (0.100, -11.5), (0.129, -13.9), (0.188, -10.3), (0.217, -11.5), (0.281, -12.7), (0.304, -7.9),
    (0.019, -18.8), (0.065, -18.8), (0.094, -16.3), (0.147, -16.3), (0.234, -17.6), (0.036, -24.8),
    (0.059, -28.5), (0.007, -23.6), (0.100, -32.1), (0.118, -28.5), (0.129, -21.2), (0.246, -23.6),
    (0.094, -42.4), (0.141, -42.4), (0.065, 49.1),
    (0.013, 32.1), (0.036, 28.5), (0.071, 33.3), (0.089, 27.2), (0.124, 32.1), (0.153, 28.5), (0.188, 32.1),
    (0.223, 29.7), (0.252, 27.2), (0.287, 32.1), (0.322, 29.7), (0.019, 21.2), (0.048, 17.6), (0.083, 21.2),
    (0.112, 16.3), (0.147, 20.0), (0.182, 17.6), (0.211, 22.4), (0.240, 16.3), (0.275, 18.8), (0.310, 15.1),
    (0.357, 22.4), (0.392, 20.0), (0.427, 18.8), (0.019, 7.9), (0.054, 10.3), (0.089, 5.4), (0.124, 9.1),
    (0.159, 6.7), (0.194, 10.3), (0.229, 5.4), (0.263, 7.9), (0.298, 4.2), (0.333, 3.0), (0.019, -3.0),
    (0.054, -5.5), (0.089, -1.8), (0.124, -4.2), (0.159, -3.0), (0.194, -4.2), (0.229, -3.0), (0.252, -5.5),
    (0.013, -12.7), (0.048, -10.3), (0.083, -14.0), (0.118, -11.5), (0.147, -15.1), (0.188, -11.5),
    (0.223, -12.7), (0.025, -22.4), (0.060, -26.0), (0.112, -27.3), (0.094, -32.1), (0.124, -21.2),
    (0.240, -22.4), (0.071, -18.8), (0.019, -18.8), (0.374, -4.8), (0.418, -6.7), (0.281, -12.7),
    (0.301, -8.5),
]

# confidence ellipse: centre x, centre y, x half-width, y shift at the x extreme, conjugate y half-axis
a_ring = (0.70, 1118, 6.46, 162, 920)
b_ring = (0.65, 1120, 6.54, 173, 906)
c_ring = (0.012, 2.2, 0.884, 59.9, 48.9)

ab_xticks = [-10, -8, -6, -4, -2, 0, 2, 4, 6, 8, 10]
ab_yticks = [200, 400, 600, 800, 1000, 1200, 1400, 1600, 1800, 2000, 2200, 2400, 2600]
c_xticks = [-1.0, -0.8, -0.6, -0.4, -0.2, 0.0, 0.2, 0.4, 0.6, 0.8, 1.0, 1.2]
c_yticks = [-120, -100, -80, -60, -40, -20, 0, 20, 40, 60, 80, 100, 120]


def fmt(v, pos=None):
    s = f"{v:,.2f}"
    if s.startswith('-'):
        s = '\u2212' + s[1:]
    if s == '\u22120.00':
        s = '0.00'
    return s


def box(l, t, r, b):
    return [l / W, 1 - b / H, (r - l) / W, (b - t) / H]


fig = plt.figure(figsize=(W / 100, H / 100), dpi=100)

panels = [
    dict(letter='A', pts=a_pts + a_core, ring=a_ring, xt=ab_xticks, yt=ab_yticks, rect=(286, 8, 1595, 726),
         xlim=(-10.465, 10.447), ylim=(98, 2709), wtp_xy=(-0.42, 593), zero_h=False,
         letter_y=60, ylab_y=400, xlab_y=806),
    dict(letter='B', pts=b_pts + b_core, ring=b_ring, xt=ab_xticks, yt=ab_yticks, rect=(286, 912.5, 1595, 1633.5),
         xlim=(-10.465, 10.447), ylim=(92, 2712), wtp_xy=(-0.42, 584), zero_h=False,
         letter_y=990, ylab_y=1305, xlab_y=1712),
    dict(letter='C', pts=c_pts + c_core, ring=c_ring, xt=c_xticks, yt=c_yticks, rect=(278.4, 1791, 1595, 2511.5),
         xlim=(-1.052, 1.249), ylim=(-130.8, 131.0), wtp_xy=(-0.055, -81.5), zero_h=True,
         letter_y=1838, ylab_y=2184, xlab_y=2590),
]

for p in panels:
    ax = fig.add_axes(box(*p['rect']))
    ax.set_xlim(p['xlim'])
    ax.set_ylim(p['ylim'])
    ax.set_xticks(p['xt'])
    ax.set_yticks(p['yt'])
    ax.xaxis.set_major_formatter(plt.FuncFormatter(fmt))
    ax.yaxis.set_major_formatter(plt.FuncFormatter(fmt))
    ax.grid(True, color=GRID, lw=1.4)
    ax.set_axisbelow(True)
    for s in ['top', 'right']:
        ax.spines[s].set_visible(False)
    ax.spines['left'].set_bounds(p['yt'][0], p['yt'][-1])
    ax.spines['bottom'].set_bounds(p['xt'][0], p['xt'][-1])
    for s in ['left', 'bottom']:
        ax.spines[s].set_linewidth(2.2)
        ax.spines[s].set_color('#111111')
    ax.tick_params(axis='y', length=11.5, width=1.6, pad=5, labelsize=17, colors='#111111')
    ax.tick_params(axis='x', length=10, width=1.6, pad=6, labelsize=17, colors='#111111')

    xy = np.array(p['pts']).T
    ok = xy[1] <= WTP * xy[0]          # below the WTP line -> cost-effective
    ax.scatter(xy[0][~ok], xy[1][~ok], s=105, c=RED, lw=0, zorder=3)
    ax.scatter(xy[0][ok], xy[1][ok], s=105, c=GREEN, lw=0, zorder=3)

    cx, cy, a1, a2, b2 = p['ring']
    t = np.linspace(0, 2 * np.pi, 400)
    ax.plot(cx + a1 * np.cos(t), cy + a2 * np.cos(t) + b2 * np.sin(t), color=RING, lw=3, zorder=4)

    y0, y1 = p['ylim']
    ax.axvline(0, color='black', lw=1.3, dashes=(6, 4), zorder=5)
    if p['zero_h']:
        ax.axhline(0, color='black', lw=1.4, dashes=(7, 5), zorder=5)
    ax.plot([y0 / WTP, y1 / WTP], [y0, y1], color='black', lw=3.4, dashes=(3, 1.2), zorder=5)
    ax.text(p['wtp_xy'][0], p['wtp_xy'][1], f'WTP={WTP}', rotation=90, ha='center', va='center',
            fontsize=26, fontweight='bold', family=['Liberation Sans', 'DejaVu Sans'], zorder=6)

    fig.text(24 / W, 1 - p['letter_y'] / H, p['letter'], ha='center', va='center', fontsize=29,
             fontweight='bold', family=['Liberation Serif', 'DejaVu Serif'])
    fig.text(115 / W, 1 - p['ylab_y'] / H, 'Incremental Cost (USD)', rotation=90, ha='center', va='center',
             fontsize=18.5, fontweight='bold', family=['Liberation Sans', 'DejaVu Sans'])
    fig.text(938 / W, 1 - p['xlab_y'] / H, 'Incremental Effectiveness (QALYs)', ha='center', va='center',
             fontsize=18.5, fontweight='bold', family=['Liberation Sans', 'DejaVu Sans'])

fig.savefig('out.png', dpi=100, facecolor='white')
